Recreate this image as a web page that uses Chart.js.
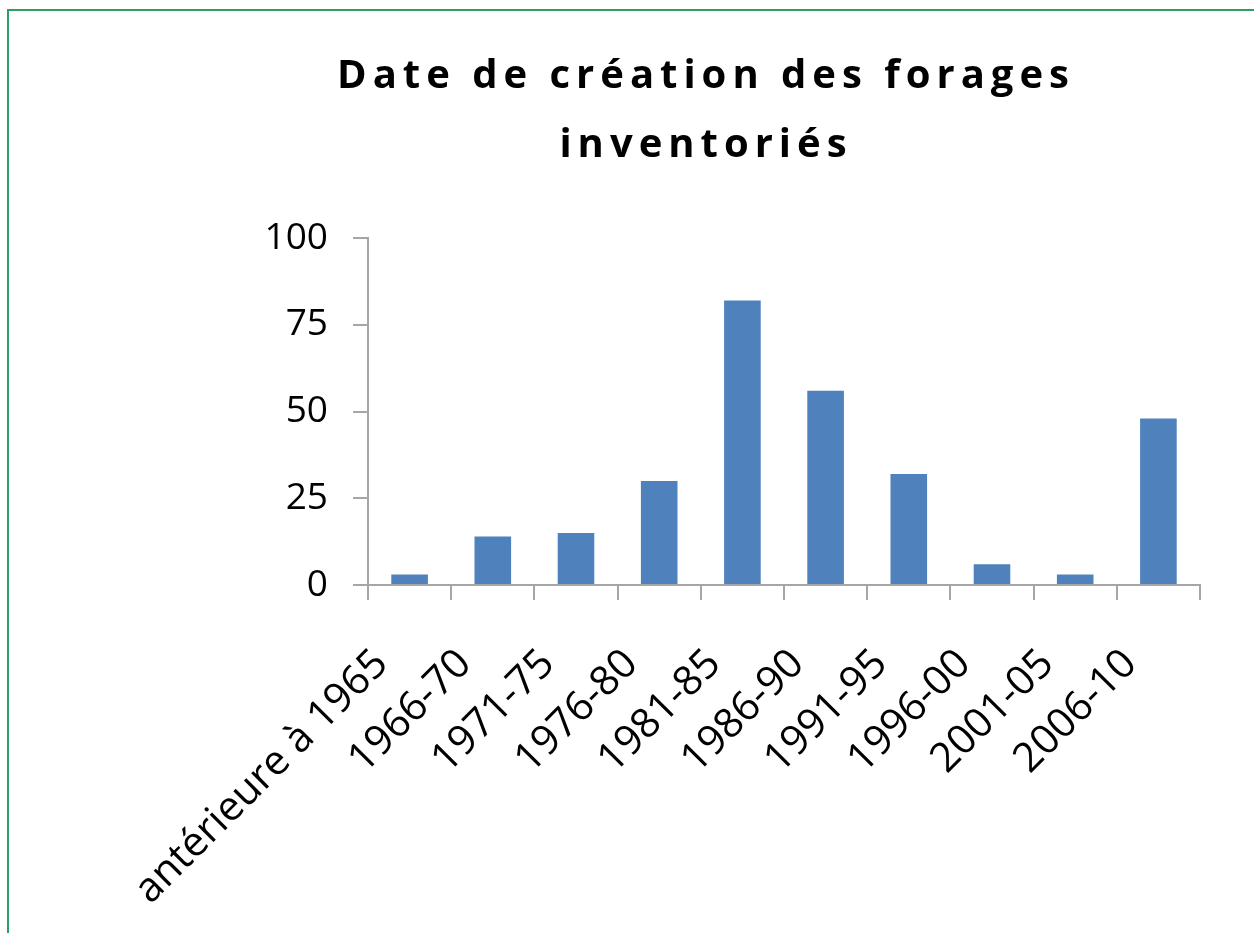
<!DOCTYPE html>
<html>
<head>
<meta charset="utf-8">
<script src="https://cdn.jsdelivr.net/npm/chart.js@4"></script>
<style>
  html, body { margin: 0; padding: 0; background: #fff; }
  #frame {
    position: absolute; left: 7px; top: 9px; width: 1260px; height: 940px;
    border-left: 2px solid #2f9e62; border-top: 2px solid #2f9e62;
  }
  #wrap { position: absolute; left: 0; top: 0; width: 1254px; height: 933px; }
</style>
</head>
<body>
<div id="frame"></div>
<div id="wrap"><canvas id="forageChart" width="1254" height="933"></canvas></div>
<script>
var categories = ["antérieure à 1965", "1966-70", "1971-75", "1976-80", "1981-85",
                  "1986-90", "1991-95", "1996-00", "2001-05", "2006-10"];
var forages = [3, 14, 15, 30, 82, 56, 32, 6, 3, 48];
var titleLines = ["Date de création des forages", "inventoriés"];

// title drawn by hand so the letter spacing can be kept
var spacedTitle = {
    id: "spacedTitle",
    afterDraw: function (chart) {
        var ctx = chart.ctx;
        ctx.save();
        ctx.font = "bold 40px 'Open Sans'";
        ctx.fillStyle = "#000";
        ctx.textAlign = "center";
        ctx.textBaseline = "alphabetic";
        if ("letterSpacing" in ctx) ctx.letterSpacing = "6px";
        ctx.fillText(titleLines[0], 706, 88);
        ctx.fillText(titleLines[1], 706, 157);
        ctx.restore();
    }
};

var ctx = document.getElementById("forageChart").getContext("2d");

var myChart = new Chart(ctx, {
    type: "bar",
    data: {
        labels: categories,
        datasets: [{
            label: "forages",
            data: forages,
            backgroundColor: "#4f81bd",
            borderWidth: 0,
            barPercentage: 0.44,
            categoryPercentage: 1
        }]
    },
    options: {
        responsive: false,
        animation: false,
        layout: { padding: { top: 238, right: 54, bottom: 20, left: 10 } },
        plugins: {
            legend: { display: false },
            tooltip: { enabled: false }
        },
        scales: {
            x: {
                offset: true,
                grid: {
                    offset: true,
                    drawOnChartArea: false,
                    color: "#a6a6a6",
                    tickLength: 15,
                    lineWidth: 2
                },
                border: { color: "#a6a6a6", width: 2 },
                ticks: {
                    color: "#000",
                    font: { family: "Open Sans", size: 41 },
                    maxRotation: 45,
                    minRotation: 45,
                    autoSkip: false,
                    padding: 40,
                    labelOffset: -28
                },
                afterFit: function (scale) {
                    scale.height = 328;
                    scale.paddingLeft = 0;
                    scale.paddingRight = 0;
                }
            },
            y: {
                min: 0,
                max: 100,
                grid: {
                    drawOnChartArea: false,
                    color: "#a6a6a6",
                    tickLength: 15,
                    lineWidth: 2
                },
                border: { color: "#a6a6a6", width: 2 },
                ticks: {
                    stepSize: 25,
                    color: "#000",
                    font: { family: "Open Sans", size: 37 },
                    padding: 25
                },
                afterFit: function (scale) {
                    scale.width = 358;
                    scale.paddingTop = 0;
                    scale.paddingBottom = 0;
                }
            }
        }
    },
    plugins: [spacedTitle]
});
</script>
</body>
</html>
